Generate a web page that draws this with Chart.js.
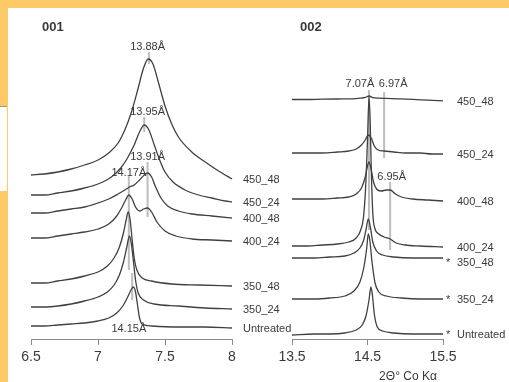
<!DOCTYPE html>
<html>
<head>
<meta charset="utf-8">
<script src="https://cdn.jsdelivr.net/npm/chart.js@4.4.0/dist/chart.umd.min.js"></script>
<style>
  html, body { margin: 0; padding: 0; width: 509px; height: 382px; overflow: hidden; background: #fdc966; }
  #sheet { position: absolute; left: 8px; top: 8px; width: 501px; height: 374px; background: #fff; }
  #scrap { position: absolute; left: 0; top: 106px; width: 7px; height: 84px; background: #fff; border-top: 1px solid #999; }
  canvas { position: absolute; top: 0; }
  #c001 { left: 0; }
  #c002 { left: 250px; }
</style>
</head>
<body>
<div id="sheet"></div>
<div id="scrap"></div>
<canvas id="c001" width="300" height="382"></canvas>
<canvas id="c002" width="259" height="389"></canvas>
<script>
const samples = ['450_48', '450_24', '400_48', '400_24', '350_48', '350_24', 'Untreated'];
const starred002 = ['350_48', '350_24', 'Untreated'];

const ticks001 = [6.5, 7, 7.5, 8];
const ticks002 = [13.5, 14.5, 15.5];

// 001 reflection, [2theta, stacked intensity]
const a450_48 = [[6.5,164],[6.6,165],[6.7,167],[6.8,170],[6.9,174],[7.0,179],[7.08,186],[7.15,196],[7.2,209],[7.25,227],[7.3,251],[7.34,271],[7.375,280],[7.41,275],[7.45,257],[7.5,233],[7.55,215],[7.6,202],[7.7,187],[7.8,177],[7.9,168],[8.0,160]];
const a450_24 = [[6.5,144],[6.6,144],[6.7,146],[6.8,148],[6.9,151],[7.0,155],[7.1,162],[7.17,171],[7.22,181],[7.27,194],[7.31,207],[7.345,214],[7.38,209],[7.42,194],[7.46,179],[7.5,167],[7.56,157],[7.65,149],[7.75,144],[7.85,141],[7.95,138],[8.0,137]];
const a400_48 = [[6.5,126],[6.6,126],[6.7,128],[6.8,130],[6.9,132],[7.0,136],[7.08,140],[7.15,145],[7.2,149],[7.235,152],[7.27,154],[7.31,159],[7.345,164],[7.37,166],[7.4,162],[7.43,152],[7.47,141],[7.52,133],[7.6,128],[7.7,125],[7.85,123],[8.0,121]];
const a400_24 = [[6.5,101],[6.6,101],[6.7,103],[6.8,105],[6.9,107],[7.0,110],[7.08,115],[7.14,123],[7.18,132],[7.21,140],[7.23,144],[7.255,140],[7.28,132],[7.31,128],[7.34,130],[7.37,131],[7.4,127],[7.44,117],[7.5,108],[7.58,103],[7.7,100],[7.85,99],[8.0,98]];
const a350_48 = [[6.5,56],[6.6,56],[6.7,58],[6.8,60],[6.9,63],[7.0,67],[7.07,73],[7.12,81],[7.16,92],[7.19,106],[7.21,119],[7.225,127],[7.24,119],[7.255,99],[7.27,81],[7.29,69],[7.33,61],[7.4,58],[7.55,55],[7.75,54],[8.0,53]];
const a350_24 = [[6.5,32],[6.6,32],[6.7,33],[6.8,35],[6.9,38],[7.0,42],[7.07,47],[7.12,54],[7.16,64],[7.19,77],[7.215,92],[7.235,103],[7.25,94],[7.265,77],[7.28,59],[7.3,46],[7.34,39],[7.42,35],[7.6,33],[7.8,31],[8.0,30]];
const aUntreated = [[6.5,13],[6.6,13],[6.7,14],[6.8,15],[6.9,16],[7.0,18],[7.08,21],[7.14,26],[7.19,34],[7.225,43],[7.25,50],[7.265,52],[7.28,47],[7.295,34],[7.31,21],[7.33,15],[7.4,13],[7.6,12],[7.8,12],[8.0,11]];

// 002 reflection
const b450_48 = [[13.5,239.5],[13.7,239.5],[13.9,239.8],[14.1,240],[14.3,240.2],[14.4,240.8],[14.47,241.6],[14.52,243],[14.57,241.4],[14.65,240.8],[14.75,240.6],[14.9,240.2],[15.1,239.6],[15.3,238.8],[15.5,238.2]];
const b450_24 = [[13.5,186],[13.7,186],[13.9,186],[14.1,187],[14.25,188],[14.35,190],[14.42,194],[14.47,199],[14.51,204],[14.55,201],[14.59,193],[14.64,189],[14.72,188],[14.85,187],[15.0,186],[15.2,186],[15.35,185],[15.5,185]];
const b400_48 = [[13.5,140],[13.7,140],[13.9,140],[14.1,141],[14.25,142],[14.35,145],[14.42,151],[14.47,162],[14.5,173],[14.52,177],[14.55,169],[14.58,157],[14.62,150],[14.68,148],[14.75,149],[14.8,149],[14.87,145],[14.95,142],[15.1,140],[15.3,139],[15.5,138]];
const b400_24 = [[13.5,93],[13.7,93],[13.9,94],[14.1,95],[14.25,97],[14.35,101],[14.41,109],[14.45,124],[14.48,159],[14.5,199],[14.52,242],[14.535,219],[14.55,169],[14.57,126],[14.6,110],[14.65,105],[14.72,102],[14.8,100],[14.88,96],[15.0,94],[15.2,93],[15.5,92]];
const b350_48 = [[13.5,81],[13.8,81],[14.0,82],[14.2,83],[14.32,86],[14.4,91],[14.45,99],[14.48,109],[14.51,120],[14.54,111],[14.57,97],[14.62,88],[14.7,84],[14.85,82],[15.1,81],[15.5,81]];
const b350_24 = [[13.5,40],[13.8,40],[14.0,41],[14.2,43],[14.32,48],[14.4,57],[14.45,71],[14.49,91],[14.51,105],[14.53,99],[14.56,77],[14.6,56],[14.65,47],[14.75,43],[14.95,41],[15.2,40],[15.5,40]];
const bUntreated = [[13.5,4],[13.8,5],[14.0,5],[14.2,6],[14.35,9],[14.43,14],[14.48,23],[14.52,39],[14.545,52],[14.565,44],[14.59,25],[14.63,12],[14.7,8],[14.85,6],[15.1,5],[15.5,5]];

// d-spacing annotations: text, 2theta, height
const dText001 = ['13.88Å', '13.95Å', '13.91Å', '14.17Å', '14.15Å'];
const dLabelX001 = [7.37, 7.37, 7.37, 7.23, 7.23];
const dLabelY001 = [292, 227, 182, 166, 10];
const markX001 = [7.38, 7.345, 7.37, 7.23, 7.255];
const markLo001 = [275, 207, 122, 69, 39];
const markHi001 = [287, 222, 177, 163, 66];

const dText002 = ['7.07Å', '6.97Å', '6.95Å'];
const dLabelX002 = [14.40, 14.84, 14.82];
const dLabelY002 = [255, 255, 162];
const markX002 = [14.52, 14.72, 14.80];
const markLo002 = [109, 181, 89];
const markHi002 = [249, 247, 157];

const FONT = '"Liberation Sans", Arial, sans-serif';
const INK = '#3a3a3a';

const traceLabels = {
  id: 'traceLabels',
  afterDatasetsDraw(chart, args, opts) {
    const { ctx, chartArea, scales: { x, y } } = chart;
    ctx.save();
    ctx.fillStyle = INK;
    ctx.textBaseline = 'middle';
    ctx.font = 'bold 13px ' + FONT;
    ctx.textAlign = 'left';
    ctx.fillText(opts.panel, chartArea.left + opts.panelDx, 27);

    ctx.font = '11px ' + FONT;
    let prev = -Infinity;
    opts.traces.forEach((pts, i) => {
      let py = y.getPixelForValue(pts[pts.length - 1][1]);
      if (py - prev < 15) py = prev + 15;
      prev = py;
      ctx.fillText(samples[i], chartArea.right + opts.gap, py + 1);
      if (opts.starred.includes(samples[i])) ctx.fillText('*', chartArea.right + 3, py + 1);
    });

    ctx.textAlign = 'center';
    opts.dText.forEach((t, i) => {
      ctx.fillText(t, x.getPixelForValue(opts.dX[i]), y.getPixelForValue(opts.dY[i]));
    });

    if (opts.axisTitle) {
      ctx.font = '12px ' + FONT;
      ctx.fillText(opts.axisTitle, chartArea.right - 35, chartArea.bottom + 38);
    }
    ctx.restore();
  }
};

function makePanel(id, traces, ticks, marks, labels, extra) {
  const datasets = traces.map((pts, i) => ({
    label: samples[i],
    data: pts,
    borderColor: '#404040',
    borderWidth: 1.3,
    pointRadius: 0,
    cubicInterpolationMode: 'monotone',
    order: 0
  }));
  marks.x.forEach((v, i) => {
    datasets.push({
      label: 'd' + i,
      data: [[v, marks.lo[i]], [v, marks.hi[i]]],
      borderColor: '#bdbdbd',
      borderWidth: 2,
      pointRadius: 0,
      order: 1
    });
  });
  return new Chart(document.getElementById(id), {
    type: 'line',
    data: { datasets },
    options: {
      responsive: false,
      animation: false,
      clip: false,
      layout: { padding: extra.padding },
      scales: {
        x: {
          type: 'linear',
          min: ticks[0],
          max: ticks[ticks.length - 1],
          afterBuildTicks: s => { s.ticks = ticks.map(v => ({ value: v })); },
          afterFit: s => { s.height = 43; },
          border: { display: true, color: '#8a8a8a', width: 1 },
          grid: { drawOnChartArea: false, drawTicks: true, tickLength: 6, color: '#8a8a8a' },
          ticks: {
            color: INK, font: { family: FONT, size: 14 }, padding: 4, maxRotation: 0,
            callback: v => String(v)
          }
        },
        y: { display: false, min: 0, max: 331 }
      },
      plugins: {
        legend: { display: false },
        tooltip: { enabled: false },
        traceLabels: Object.assign({ traces, starred: [] }, labels)
      }
    },
    plugins: [traceLabels]
  });
}

makePanel('c001',
  [a450_48, a450_24, a400_48, a400_24, a350_48, a350_24, aUntreated],
  ticks001,
  { x: markX001, lo: markLo001, hi: markHi001 },
  { panel: '001', panelDx: 11, gap: 11, dText: dText001, dX: dLabelX001, dY: dLabelY001 },
  { padding: { left: 31, right: 68, top: 8, bottom: 0 } });

makePanel('c002',
  [b450_48, b450_24, b400_48, b400_24, b350_48, b350_24, bUntreated],
  ticks002,
  { x: markX002, lo: markLo002, hi: markHi002 },
  { panel: '002', panelDx: 8, gap: 14, starred: starred002, dText: dText002, dX: dLabelX002, dY: dLabelY002, axisTitle: '2Θ° Co Kα' },
  { padding: { left: 42, right: 66, top: 8, bottom: 7 } });
</script>
</body>
</html>
